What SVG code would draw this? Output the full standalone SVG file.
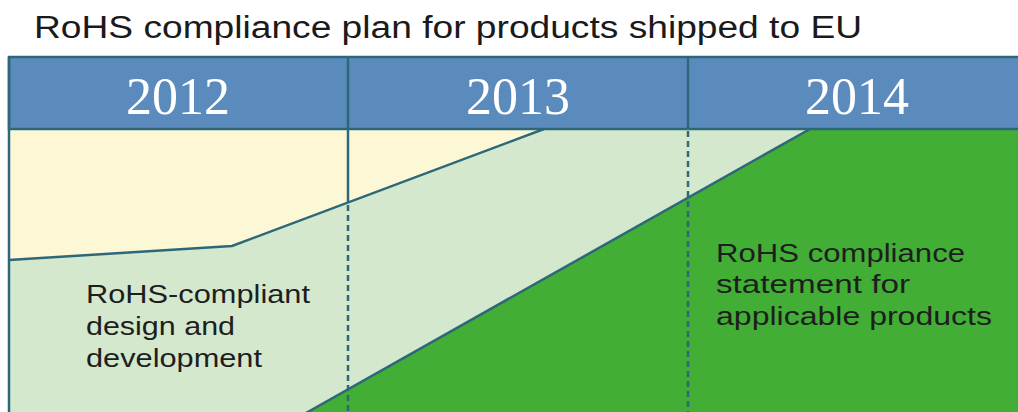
<svg xmlns="http://www.w3.org/2000/svg" width="1018" height="412" viewBox="0 0 1018 412">
<style>
.edge{stroke:#2c6879;stroke-width:2.5;fill:none}
.dash{stroke:#2c6879;stroke-width:2.5;fill:none;stroke-dasharray:6 4}
.year{font-family:"Liberation Serif","DejaVu Serif",serif;font-size:52px;fill:#ffffff;text-anchor:middle}
.lbl{font-family:"Liberation Sans","DejaVu Sans",sans-serif;font-size:25px;fill:#1e1e1e}
.title{font-family:"Liberation Sans","DejaVu Sans",sans-serif;font-size:31px;fill:#1a1a1a}
</style>
<rect width="1018" height="412" fill="#ffffff"/>
<text class="title" x="34" y="38" textLength="828" lengthAdjust="spacingAndGlyphs">RoHS compliance plan for products shipped to EU</text>
<g id="chart-body">
<rect x="9" y="129" width="1015" height="290" fill="#d3e8cd"/>
<polygon points="9,129 544,129 232,246 9,260" fill="#fcf8d5"/>
<polygon points="810,129 1024,129 1024,420 308,412" fill="#42ae36"/>
</g>
<g id="header">
<rect x="9" y="57" width="1015" height="72" fill="#5b8bbd" stroke="#2c6879" stroke-width="2.5"/>
<g id="y2012"><text class="year" x="178" y="114">2012</text></g>
<g id="y2013"><text class="year" x="518" y="114">2013</text></g>
<g id="y2014"><text class="year" x="857" y="114">2014</text></g>
</g>
<g id="connectors">
<line class="edge" x1="9" y1="57" x2="9" y2="412"/>
<polyline class="edge" points="9,260 232,246 544,129"/>
<line class="edge" x1="810" y1="129" x2="306" y2="413"/>
<line class="edge" x1="348" y1="57" x2="348" y2="203"/>
<line class="dash" x1="348" y1="205" x2="348" y2="412"/>
<line class="edge" x1="688" y1="57" x2="688" y2="129"/>
<line class="dash" x1="688" y1="131" x2="688" y2="412"/>
</g>
<g id="design">
<text class="lbl" x="86" y="303" textLength="224" lengthAdjust="spacingAndGlyphs">RoHS-compliant</text>
<text class="lbl" x="86" y="335" textLength="149" lengthAdjust="spacingAndGlyphs">design and</text>
<text class="lbl" x="86" y="367" textLength="176" lengthAdjust="spacingAndGlyphs">development</text>
</g>
<g id="statement">
<text class="lbl" x="716" y="262" textLength="249" lengthAdjust="spacingAndGlyphs">RoHS compliance</text>
<text class="lbl" x="716" y="293" textLength="194" lengthAdjust="spacingAndGlyphs">statement for</text>
<text class="lbl" x="716" y="325" textLength="276" lengthAdjust="spacingAndGlyphs">applicable products</text>
</g>
</svg>
